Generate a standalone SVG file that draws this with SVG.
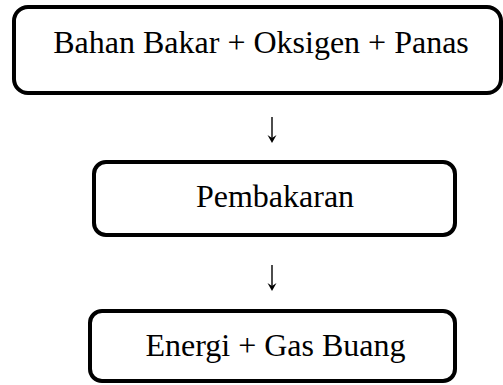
<svg xmlns="http://www.w3.org/2000/svg" width="503" height="385" viewBox="0 0 503 385">
<style>
.box{fill:#fff;stroke:#000;stroke-width:4}
.t{font-family:"Liberation Serif","Times New Roman",serif;font-size:32px;fill:#000;text-anchor:middle}
.ln{stroke:#000;stroke-width:1.4;fill:none}
.hd{fill:#000}
</style>
<defs>
<g id="arrow"><line class="ln" x1="0" y1="0" x2="0" y2="24"/><path class="hd" d="M-4.5,18 L0,26 L4.5,18 L0,21 Z"/></g>
</defs>
<rect width="503" height="385" fill="#fff"/>
<g id="node-input"><rect class="box" x="14" y="7" width="487" height="86" rx="14"/><text class="t" x="261" y="53">Bahan Bakar + Oksigen + Panas</text></g>
<g id="node-process"><rect class="box" x="94" y="162" width="361" height="73" rx="12"/><text class="t" x="275" y="207">Pembakaran</text></g>
<g id="node-output"><rect class="box" x="90" y="311" width="365" height="70" rx="12"/><text class="t" x="275.5" y="356">Energi + Gas Buang</text></g>
<g id="connectors"><use href="#arrow" x="272" y="117"/><use href="#arrow" x="272" y="265"/></g>
</svg>
